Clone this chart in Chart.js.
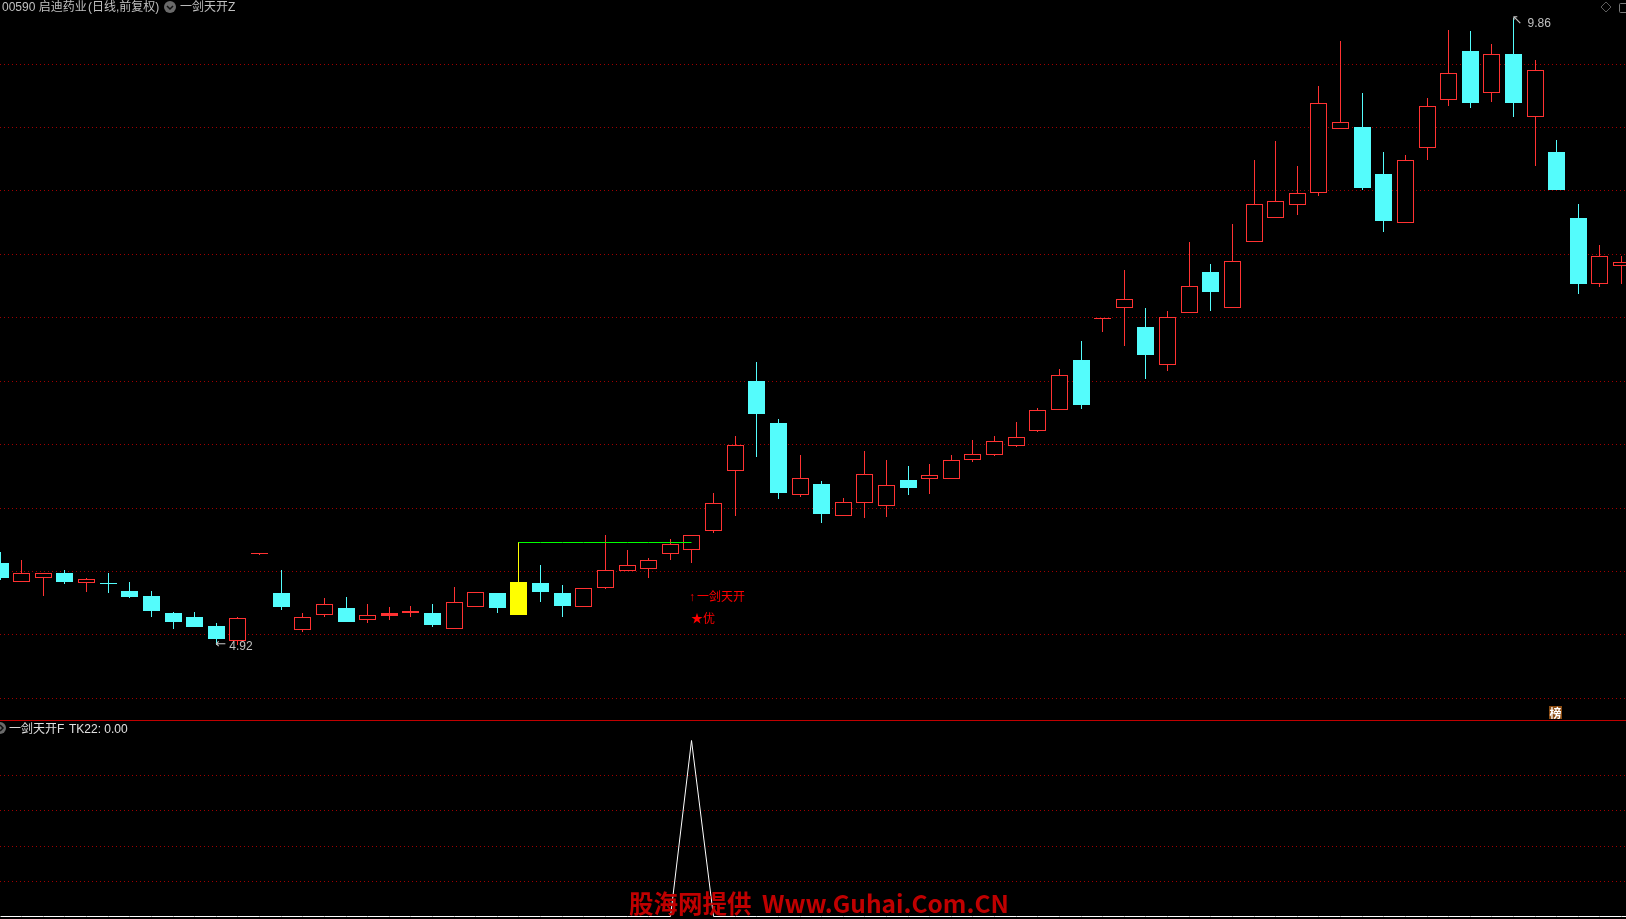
<!DOCTYPE html>
<html>
<head>
<meta charset="utf-8">
<title>一剑天开</title>
<script src="https://cdn.jsdelivr.net/npm/chart.js@4/dist/chart.umd.min.js"></script>
<style>
html, body { margin: 0; background: #000; overflow: hidden; }
#page { position: relative; width: 1626px; height: 919px; background: #000; overflow: hidden; }
canvas { position: absolute; left: 0; display: block; }
#mainChart { top: 0; }
#subChart { top: 720px; }
.txt { position: absolute; white-space: pre; font: 12px/14px "Liberation Sans", "Noto Sans CJK SC", sans-serif; color: #c0c0c0; }
#divider { position: absolute; left: 0; top: 720px; width: 1626px; height: 1px; background: #c00000; }
#badge { position: absolute; left: 1549px; top: 706px; width: 13px; height: 13px; background: #8a4a10; color: #fff; font: bold 12px/13px "Noto Sans CJK SC", sans-serif; text-align: center; }
#mark { position: absolute; left: 629px; top: 887px; color: #c00000; font: bold 24.5px/32px "Noto Sans CJK SC", sans-serif; white-space: pre; word-spacing: 5px; }
svg { position: absolute; overflow: visible; }
</style>
</head>
<body>
<div id="page">
  <canvas id="mainChart" width="1626" height="720"></canvas>
  <canvas id="subChart" width="1626" height="199"></canvas>
  <div id="divider"></div>

  <div class="txt" style="left:2px;top:0">00590 启迪药业</div>
  <div class="txt" style="left:88px;top:0">(日线,前复权)</div>
  <svg style="left:164px;top:1px" width="12" height="12"><circle cx="6" cy="6" r="6" fill="#6a6a6a"/><path d="M3 5 L6 8 L9 5" stroke="#111" stroke-width="1.5" fill="none"/></svg>
  <div class="txt" style="left:180px;top:0">一剑天开Z</div>
  <svg style="left:1600px;top:1px" width="12" height="12"><path d="M6 1 L11 6 L6 11 L1 6 Z" stroke="#5c5c5c" fill="none"/></svg>
  <svg style="left:1619px;top:3px" width="7" height="10"><rect x="0.5" y="0.5" width="8" height="9" rx="1" stroke="#7a7a7a" fill="none"/></svg>

  <svg style="left:-6px;top:722px" width="12" height="12"><circle cx="6" cy="6" r="6" fill="#6a6a6a"/><path d="M6 3 L9 6 L6 9" stroke="#111" stroke-width="1.5" fill="none"/></svg>
  <div class="txt" style="left:9px;top:722px;color:#e0e0e0">一剑天开F</div>
  <div class="txt" style="left:69px;top:722px;color:#e0e0e0">TK22: 0.00</div>

  <div id="badge">榜</div>
  <div id="mark">股海网提供 Www.Guhai.Com.CN</div>
</div>

<script>
// 日线数据
const opens = [5.57,5.42,5.45,5.49,5.41,5.41,5.35,5.31,5.17,5.14,5.07,4.95,5.64,5.33,5.04,5.16,5.21,5.12,5.15,5.17,
  5.17,5.05,5.22,5.33,5.42,5.41,5.33,5.22,5.37,5.50,5.52,5.64,5.67,5.82,6.29,7.00,6.67,6.10,6.19,5.94,
  6.04,6.02,6.22,6.23,6.23,6.38,6.42,6.49,6.61,6.77,7.17,7.49,7.58,7.43,7.13,7.54,7.86,7.58,8.10,8.29,
  8.39,8.48,8.99,9.00,8.63,8.25,8.84,9.22,9.60,9.27,9.58,9.08,8.81,8.29,7.77,7.91];
const highs = [5.65,5.59,5.49,5.51,5.45,5.49,5.42,5.35,5.18,5.18,5.09,5.14,5.64,5.51,5.17,5.29,5.30,5.24,5.22,5.23,
  5.24,5.38,5.34,5.33,5.73,5.55,5.39,5.37,5.79,5.67,5.61,5.76,5.79,6.12,6.57,7.15,6.70,6.42,6.21,6.08,
  6.45,6.38,6.33,6.35,6.42,6.54,6.57,6.68,6.79,7.10,7.32,7.49,7.88,7.58,7.55,8.10,7.92,8.24,8.74,8.89,
  8.70,9.33,9.68,9.27,8.81,8.78,9.23,9.77,9.76,9.66,9.86,9.53,8.90,8.40,8.07,7.99];
const lows = [5.43,5.42,5.31,5.40,5.34,5.33,5.29,5.14,5.05,5.06,4.92,4.92,5.64,5.20,5.02,5.14,5.10,5.09,5.12,5.14,
  5.06,5.05,5.22,5.17,5.16,5.26,5.14,5.22,5.36,5.50,5.45,5.59,5.57,5.80,5.94,6.40,6.07,6.09,5.88,5.94,
  5.92,5.93,6.10,6.11,6.23,6.36,6.41,6.48,6.60,6.77,6.78,7.39,7.28,7.02,7.08,7.54,7.55,7.58,8.10,8.29,
  8.31,8.46,8.99,8.51,8.18,8.25,8.74,9.17,9.15,9.20,9.08,8.70,8.51,7.69,7.74,7.77];
const closes = [5.45,5.49,5.49,5.42,5.44,5.40,5.30,5.19,5.10,5.06,4.97,5.13,5.64,5.22,5.14,5.24,5.10,5.16,5.17,5.19,
  5.08,5.26,5.34,5.21,5.16,5.34,5.23,5.37,5.51,5.55,5.59,5.72,5.79,6.04,6.50,6.74,6.12,6.24,5.95,6.05,
  6.27,6.18,6.16,6.26,6.38,6.43,6.53,6.56,6.77,7.05,6.81,7.49,7.65,7.21,7.51,7.75,7.70,7.95,8.40,8.42,
  8.48,9.19,9.04,8.52,8.26,8.74,9.17,9.43,9.19,9.58,9.19,9.45,8.51,7.77,7.99,7.94];

// 一剑天开 信号: 黄柱和绿线
const signalDay = 24;
const signalLineDays = [24,25,26,27,28,29,30,31,32];
const signalLine = [5.73,5.73,5.73,5.73,5.73,5.73,5.73,5.73,5.73];

// 副图 TK22
const tk22 = [0,0,0,0,0,0,0,0,0,0,0,0,0,0,0,0,0,0,0,0,
  0,0,0,0,0,0,0,0,0,0,0,0,1,0,0,0,0,0,0,0,
  0,0,0,0,0,0,0,0,0,0,0,0,0,0,0,0,0,0,0,0,
  0,0,0,0,0,0,0,0,0,0,0,0,0,0,0,0,0];

// 网格线
const priceGrid = [4.5,5,5.5,6,6.5,7,7.5,8,8.5,9,9.5];
const tkGrid = [0.2,0.4,0.6,0.8];

// 图上的文字
const LATIN = '12px "Liberation Sans", "Noto Sans CJK SC", sans-serif';
const ARROW = '13px "DejaVu Sans", sans-serif';
const marks = [
  { day: 10, price: 4.92, text: '←', dx: -1, dy: 0, color: '#c0c0c0', font: ARROW },
  { day: 10, price: 4.92, text: '4.92', dx: 13, dy: 2, color: '#c0c0c0', font: LATIN },
  { day: 70, price: 9.86, text: '↖', dx: -2, dy: 2, color: '#c0c0c0', font: ARROW },
  { day: 70, price: 9.86, text: '9.86', dx: 14, dy: 5, color: '#c0c0c0', font: LATIN },
  { day: 32, price: 5.30, text: '↑', dx: -3, dy: 1, color: '#ff0000', font: LATIN },
  { day: 32, price: 5.30, text: '一剑天开', dx: 5, dy: 1, color: '#ff0000', font: LATIN },
  { day: 32, price: 5.12, text: '★优', dx: -1, dy: 0, color: '#ff0000', font: LATIN }
];

const RED = '#ff3232', CYAN = '#54fcfc', YELLOW = '#ffff00';
const isUp = i => closes[i] >= opens[i];
const isThin = i => Math.abs(closes[i] - opens[i]) < 0.025;
const bodyColor = i => i === signalDay ? YELLOW : (isUp(i) ? RED : CYAN);

// 横轴范围: 每根K线 21.62 像素
const xMin = -0.005, xMax = 75.204;

// K线和线条都对齐到整像素, 不然会发虚
const snapPixels = {
  id: 'snapPixels',
  afterDatasetsUpdate(chart) {
    chart.data.datasets.forEach((ds, n) => {
      chart.getDatasetMeta(n).data.forEach(el => {
        el.x = Math.floor(el.x) + 0.5;
        if (ds.type === 'line') {
          el.y = Math.round(el.y - 0.1) + 0.5;
        } else {
          el.y = Math.round(el.y);
          el.base = Math.round(el.base);
          if (el.y === el.base) el.base = el.y + 1;
        }
      });
    });
  }
};

const drawMarks = {
  id: 'drawMarks',
  afterDatasetsDraw(chart) {
    const { ctx, scales } = chart;
    ctx.save();
    ctx.textBaseline = 'middle';
    marks.forEach(m => {
      ctx.font = m.font;
      ctx.fillStyle = m.color;
      ctx.fillText(m.text, scales.x.getPixelForValue(m.day) + m.dx, scales.y.getPixelForValue(m.price) + m.dy);
    });
    ctx.restore();
  }
};

const gridLines = { color: '#a00000', lineWidth: 1, drawTicks: false };
const gridBorder = { display: false, dash: [1, 3] };

const xAxis = { type: 'linear', display: false, offset: false, min: xMin, max: xMax, grid: { display: false } };

// 主图
const mainCtx = document.getElementById('mainChart').getContext('2d');
const mainChart = new Chart(mainCtx, {
  type: 'bar',
  data: {
    datasets: [
      {
        type: 'line',
        label: '压力线',
        data: signalLineDays.map((d, i) => ({ x: d, y: signalLine[i] })),
        borderColor: '#00ff00',
        borderWidth: 1,
        pointRadius: 0,
        tension: 0,
        order: 0
      },
      {
        label: '实体',
        data: opens.map((o, i) => ({ x: i, y: [o, closes[i]] })),
        barThickness: 17,
        minBarLength: 1,
        grouped: false,
        inflateAmount: 0,
        borderWidth: c => (isThin(c.dataIndex) ? 0 : 1),
        borderSkipped: false,
        borderColor: c => bodyColor(c.dataIndex),
        backgroundColor: c => (isUp(c.dataIndex) && !isThin(c.dataIndex) ? '#000000' : bodyColor(c.dataIndex)),
        order: 1
      },
      {
        label: '影线',
        data: lows.map((l, i) => ({ x: i, y: [l, highs[i]] })),
        barThickness: 1,
        grouped: false,
        inflateAmount: 0,
        borderWidth: 0,
        backgroundColor: c => bodyColor(c.dataIndex),
        order: 2
      }
    ]
  },
  options: {
    responsive: false,
    animation: false,
    events: [],
    layout: { padding: 0 },
    plugins: { legend: { display: false }, tooltip: { enabled: false } },
    scales: {
      x: xAxis,
      y: {
        min: 4.3293,
        max: 10.0049,
        ticks: { display: false },
        grid: gridLines,
        border: gridBorder,
        afterFit: s => { s.width = 0; },
        afterBuildTicks: s => { s.ticks = priceGrid.map(v => ({ value: v })); }
      }
    }
  },
  plugins: [snapPixels, drawMarks]
});

// 副图
const subCtx = document.getElementById('subChart').getContext('2d');
const subChart = new Chart(subCtx, {
  type: 'line',
  data: {
    datasets: [{
      type: 'line',
      label: 'TK22',
      data: tk22.map((v, i) => ({ x: i, y: v })),
      borderColor: '#ffffff',
      borderWidth: 1,
      pointRadius: 0,
      tension: 0
    }]
  },
  options: {
    responsive: false,
    animation: false,
    events: [],
    layout: { padding: 0 },
    plugins: { legend: { display: false }, tooltip: { enabled: false } },
    scales: {
      x: xAxis,
      y: {
        min: -0.0142,
        max: 1.1158,
        ticks: { display: false },
        grid: gridLines,
        border: gridBorder,
        afterFit: s => { s.width = 0; },
        afterBuildTicks: s => { s.ticks = tkGrid.map(v => ({ value: v })); }
      }
    }
  },
  plugins: [snapPixels]
});
</script>
</body>
</html>
